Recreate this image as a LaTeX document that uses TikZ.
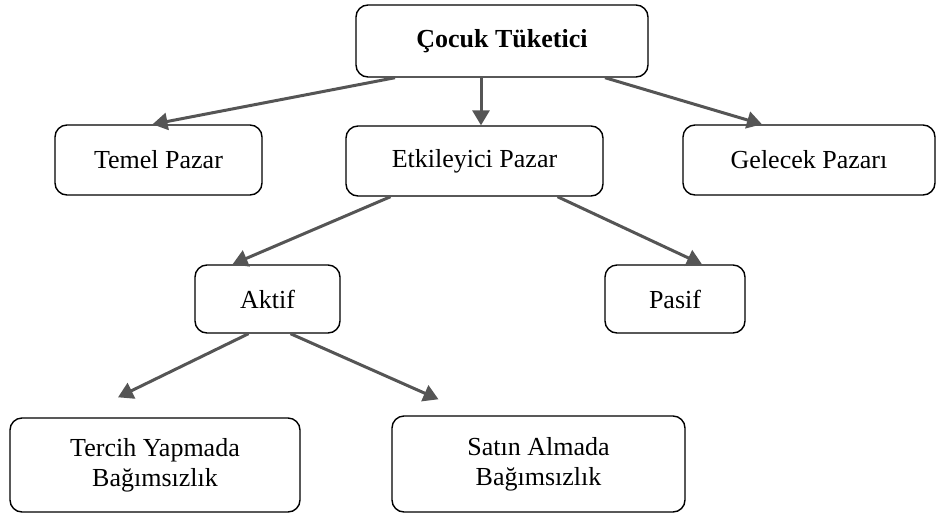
\documentclass[tikz,border=0pt]{standalone}
\usepackage{fontspec}
\setmainfont{Liberation Serif}
\usepackage{xcolor}
\definecolor{arrowgray}{RGB}{85,85,85}
\usetikzlibrary{arrows.meta,positioning}
\tikzset{
  treebox/.style={draw=black, line width=1.4pt, rounded corners=12pt,
    align=center, font=\fontsize{26}{30}\selectfont, fill=white},
  rootbox/.style={treebox, font=\fontsize{26}{30}\selectfont\bfseries},
  treearrow/.style={-{Triangle[length=15pt,width=17pt]}, line width=3pt, color=arrowgray}
}
\begin{document}
\begin{tikzpicture}[x=1pt,y=-1pt]
  \useasboundingbox (0,0) rectangle (940,515);

  \node[rootbox, minimum width=292pt, minimum height=72pt] (cocuk) at (502,41) {Çocuk Tüketici};

  \node[treebox, minimum width=207pt, minimum height=70pt] (temel) at (158.5,160) {Temel Pazar};
  \node[treebox, minimum width=257pt, minimum height=70pt] (etki) at (474.5,161) {Etkileyici Pazar};
  \node[treebox, minimum width=252pt, minimum height=70pt] (gelecek) at (809,160) {Gelecek Pazarı};

  \node[treebox, minimum width=145pt, minimum height=68pt] (aktif) at (267.5,299) {Aktif};
  \node[treebox, minimum width=140pt, minimum height=68pt] (pasif) at (675,299) {Pasif};

  \node[treebox, minimum width=290pt, minimum height=94pt] (tercih) at (155,465) {Tercih Yapmada\\Bağımsızlık};
  \node[treebox, minimum width=293pt, minimum height=96pt] (satin) at (538.5,464) {Satın Almada\\Bağımsızlık};

  % first level
  \draw[treearrow] ([xshift=-107pt]cocuk.south) -- ([xshift=-6pt]temel.north);
  \draw[treearrow] ([xshift=-21pt]cocuk.south) -- ([xshift=6.5pt]etki.north);
  \draw[treearrow] ([xshift=103pt]cocuk.south) -- ([xshift=-47pt]gelecek.north);

  % second level
  \draw[treearrow] ([xshift=-84pt]etki.south) -- ([xshift=-35pt]aktif.north);
  \draw[treearrow] ([xshift=83pt]etki.south) -- ([xshift=27pt]pasif.north);

  % third level
  \draw[treearrow] ([xshift=-19pt]aktif.south) -- ([xshift=-37pt,yshift=20pt]tercih.north);
  \draw[treearrow] ([xshift=23pt]aktif.south) -- ([xshift=-100pt,yshift=16pt]satin.north);
\end{tikzpicture}
\end{document}
